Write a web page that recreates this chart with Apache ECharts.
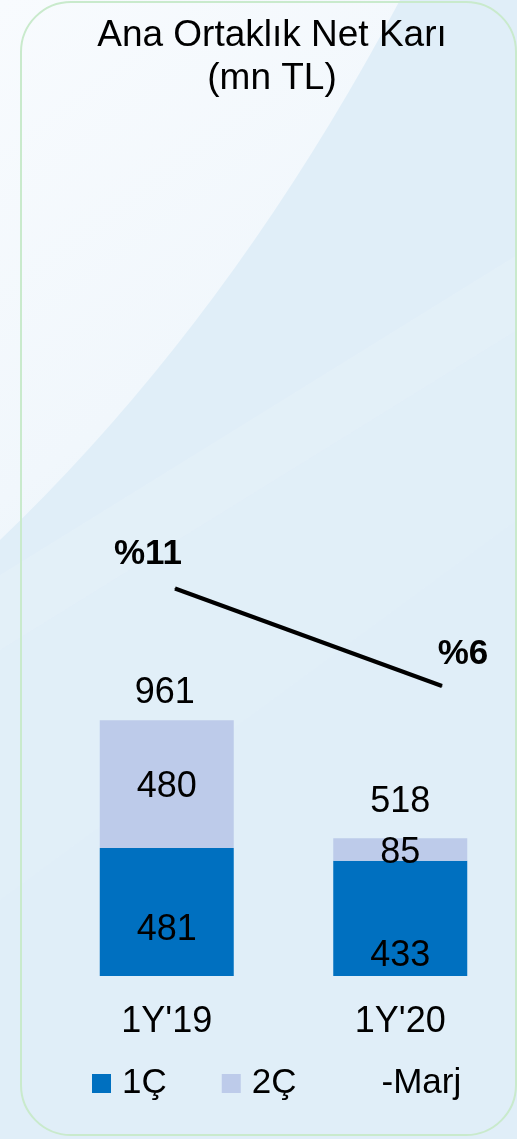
<!DOCTYPE html>
<html>
<head>
<meta charset="utf-8">
<title>Ana Ortaklık Net Karı</title>
<script src="https://cdn.jsdelivr.net/npm/echarts@6/dist/echarts.min.js"></script>
<style>
  html, body { margin: 0; padding: 0; background: #e0eef8; }
  #chart { width: 517px; height: 1139px; }
</style>
</head>
<body>
<div id="chart"></div>
<script>
// ---- data ----
var categories  = ["1Y'19", "1Y'20"];
var q1Values    = [481, 433];   // 1Ç
var q2Values    = [480, 85];    // 2Ç
var totalValues = [961, 518];   // toplam (bar top labels)
var marjValues  = [11, 6];      // -Marj, %

// ---- label nudges, kept apart from the data ----
var q1LabelOffsets    = [[0, 18], [0, 38]];
var q2LabelOffsets    = [[0, 3], [0, 4]];
var totalLabelOffsets = [[-2, -4], [0, -13]];
var marjLabelOffsets  = [[-27, -11], [21, -9]];

var FONT = '"Liberation Sans", Arial, sans-serif';

var withOffsets = function (values, offsets) {
  return values.map(function (v, i) {
    return { value: v, label: { offset: offsets[i] } };
  });
};

// outline of the pale swoosh in the backdrop (decoration only)
var swooshPoints = function () {
  var pts = [[0, 0]], t, u;
  for (t = 0; t <= 1.0001; t += 0.05) {
    u = 1 - t;
    pts.push([u * u * 400 + 2 * u * t * 230, 2 * u * t * 320 + t * t * 540]);
  }
  return pts;
};

var chart = echarts.init(document.getElementById('chart'), null, { renderer: 'canvas' });

var option = {
  animation: false,
  backgroundColor: '#e0eef8',
  textStyle: { fontFamily: FONT },
  graphic: [
    {
      type: 'polygon', z: -10, silent: true,
      shape: { points: swooshPoints() },
      style: {
        fill: {
          type: 'linear', x: 0, y: 0, x2: 1, y2: 1,
          colorStops: [
            { offset: 0, color: '#f8fbfe' },
            { offset: 0.6, color: '#f1f7fc' },
            { offset: 1, color: '#e8f2fa' }
          ]
        }
      }
    },
    {
      type: 'polygon', z: -9, silent: true,
      shape: { points: [[0, 575], [517, 255], [517, 330], [0, 650]] },
      style: { fill: 'rgba(255,255,255,0.12)' }
    },
    {
      type: 'polygon', z: -9, silent: true,
      shape: { points: [[0, 650], [517, 330], [517, 520], [0, 900]] },
      style: { fill: 'rgba(255,255,255,0.06)' }
    },
    {
      type: 'rect', z: -5, silent: true,
      shape: { x: 21, y: 2, width: 495, height: 1133, r: 50 },
      style: { fill: 'none', stroke: '#c9eacc', lineWidth: 2 }
    }
  ],
  title: {
    text: 'Ana Ortaklık Net Karı\n(mn TL)',
    left: 272,
    textAlign: 'center',
    top: 14,
    padding: 0,
    textStyle: {
      fontFamily: FONT, fontSize: 37, fontWeight: 'normal',
      color: '#000', lineHeight: 43
    }
  },
  legend: {
    left: 92,
    top: 1066,
    padding: 0,
    itemWidth: 19,
    itemHeight: 19,
    itemGap: 55,
    selectedMode: false,
    textStyle: { fontFamily: FONT, fontSize: 35, color: '#000', padding: [0, 0, 0, 6] },
    data: [
      { name: '1Ç', icon: 'rect' },
      { name: '2Ç', icon: 'rect' },
      { name: '-Marj', icon: 'none' }
    ]
  },
  grid: [
    { left: 50, right: 0, top: 710, bottom: 163 },
    { left: 175, right: 75, top: 413, bottom: 336 }
  ],
  xAxis: [
    {
      type: 'category', gridIndex: 0, data: categories,
      axisLine: { show: false }, axisTick: { show: false },
      axisLabel: { fontFamily: FONT, fontSize: 36, color: '#000', margin: 28 }
    },
    {
      type: 'category', gridIndex: 1, data: categories,
      boundaryGap: false, show: false
    }
  ],
  yAxis: [
    { type: 'value', gridIndex: 0, min: 0, max: 1000, show: false },
    { type: 'value', gridIndex: 1, min: 0, max: 20, show: false }
  ],
  series: [
    {
      name: '1Ç', type: 'bar', stack: 'toplam', barWidth: 134,
      xAxisIndex: 0, yAxisIndex: 0,
      itemStyle: { color: '#0070c0' },
      label: { show: true, position: 'inside', fontFamily: FONT, fontSize: 36, color: '#000' },
      data: withOffsets(q1Values, q1LabelOffsets)
    },
    {
      name: '2Ç', type: 'bar', stack: 'toplam', barWidth: 134,
      xAxisIndex: 0, yAxisIndex: 0,
      itemStyle: { color: '#bdcbea' },
      label: { show: true, position: 'inside', fontFamily: FONT, fontSize: 36, color: '#000' },
      data: withOffsets(q2Values, q2LabelOffsets)
    },
    {
      name: 'Toplam', type: 'scatter',
      xAxisIndex: 0, yAxisIndex: 0,
      symbolSize: 1,
      itemStyle: { color: 'rgba(0,0,0,0)', opacity: 1 },
      label: { show: true, position: 'top', fontFamily: FONT, fontSize: 36, color: '#000' },
      data: withOffsets(totalValues, totalLabelOffsets)
    },
    {
      name: '-Marj', type: 'line',
      xAxisIndex: 1, yAxisIndex: 1,
      symbol: 'circle', symbolSize: 1,
      itemStyle: { color: '#000' },
      lineStyle: { color: '#000', width: 4 },
      label: {
        show: true, position: 'top', fontFamily: FONT, fontSize: 35,
        fontWeight: 'bold', color: '#000',
        formatter: function (p) { return '%' + p.value; }
      },
      data: withOffsets(marjValues, marjLabelOffsets)
    }
  ]
};

chart.setOption(option);
</script>
</body>
</html>
